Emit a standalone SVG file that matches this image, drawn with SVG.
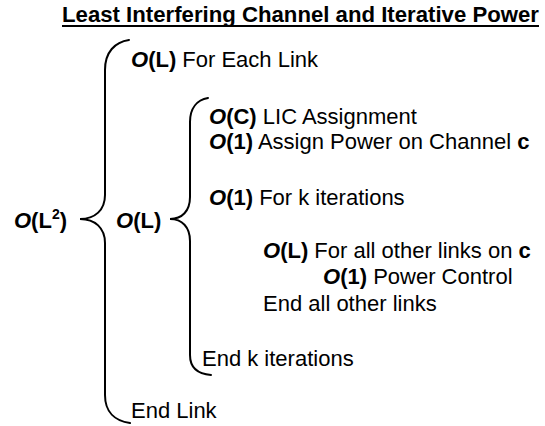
<svg xmlns="http://www.w3.org/2000/svg" width="545" height="426" viewBox="0 0 545 426">
<style>
text{font-family:"Liberation Sans",Arial,sans-serif;font-size:22px;fill:#000}
.b{font-weight:bold}
.bi{font-weight:bold;font-style:italic}
.brace{fill:none;stroke:#000;stroke-width:2;stroke-linecap:round}
</style>
<rect width="545" height="426" fill="#fff"/>
<g id="title">
<text x="62" y="22" class="b" textLength="477" lengthAdjust="spacingAndGlyphs">Least Interfering Channel and Iterative Power</text>
<line x1="62" y1="26" x2="539" y2="26" stroke="#000" stroke-width="1.8"/>
</g>
<g id="braces">
<path class="brace" d="M129,40 C115,42 105,52 105,70 L105,195 C105,210 95,219 80,219 C95,219 105,228 105,243 L105,395 C105,412 115,421 130,423"/>
<path class="brace" d="M208,98 C197,100 190,108 190,122 L190,197 C190,211 182,219 170,219 C182,219 190,227 190,241 L190,355 C190,368 198,374 211,375"/>
</g>
<g id="outer-label"><text x="14" y="228" textLength="53" lengthAdjust="spacingAndGlyphs"><tspan class="bi">O</tspan><tspan class="b">(L</tspan><tspan class="b" font-size="14" dy="-9">2</tspan><tspan class="b" dy="9">)</tspan></text></g>
<g id="inner-label"><text x="116" y="228"><tspan class="bi">O</tspan><tspan class="b">(L)</tspan></text></g>
<g id="line1"><text x="131" y="67"><tspan class="bi">O</tspan><tspan class="b">(L)</tspan> For Each Link</text></g>
<g id="line2"><text x="209" y="124"><tspan class="bi">O</tspan><tspan class="b">(C)</tspan> LIC Assignment</text></g>
<g id="line3"><text x="209" y="149"><tspan class="bi">O</tspan><tspan class="b">(1)</tspan> Assign Power on Channel <tspan class="b">c</tspan></text></g>
<g id="line4"><text x="209" y="205"><tspan class="bi">O</tspan><tspan class="b">(1)</tspan> For k iterations</text></g>
<g id="line5"><text x="263" y="258"><tspan class="bi">O</tspan><tspan class="b">(L)</tspan> For all other links on <tspan class="b">c</tspan></text></g>
<g id="line6"><text x="323" y="284"><tspan class="bi">O</tspan><tspan class="b">(1)</tspan> Power Control</text></g>
<g id="line7"><text x="263" y="311">End all other links</text></g>
<g id="line8"><text x="202" y="366">End k iterations</text></g>
<g id="line9"><text x="131" y="418">End Link</text></g>
</svg>
